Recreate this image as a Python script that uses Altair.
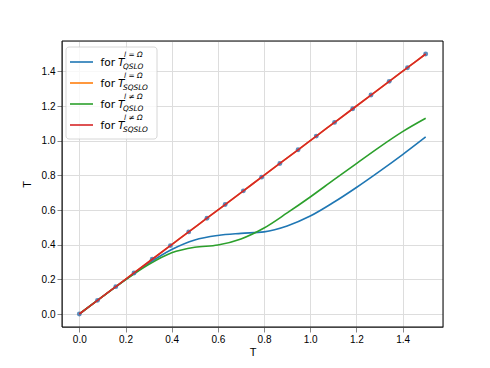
import altair as alt
import pandas as pd

# ---- data ----
curve_x = [0.0, 0.1, 0.2, 0.3, 0.4, 0.5, 0.6, 0.7, 0.8, 0.9, 1.0, 1.1, 1.2, 1.3, 1.4, 1.5]
qslo_eq = [0.0, 0.1, 0.198, 0.292, 0.372, 0.427, 0.453, 0.465, 0.474, 0.508, 0.565, 0.643, 0.73, 0.823, 0.92, 1.022]
qslo_ne = [0.0, 0.1, 0.197, 0.285, 0.353, 0.385, 0.398, 0.433, 0.496, 0.583, 0.675, 0.772, 0.868, 0.963, 1.052, 1.129]

pts_x = [0.0, 0.0789, 0.1579, 0.2368, 0.3158, 0.3947, 0.4737, 0.5526, 0.6316, 0.7105,
         0.7895, 0.8684, 0.9474, 1.0263, 1.1053, 1.1842, 1.2632, 1.3421, 1.4211, 1.5]
sqslo_eq = [0.0, 0.0789, 0.1579, 0.2368, 0.3158, 0.3947, 0.4737, 0.5526, 0.6316, 0.7105,
            0.7895, 0.8684, 0.9474, 1.0263, 1.1053, 1.1842, 1.2632, 1.3421, 1.4211, 1.5]
sqslo_ne = [0.0, 0.0789, 0.1579, 0.2368, 0.3158, 0.3947, 0.4737, 0.5526, 0.6316, 0.7105,
            0.7895, 0.8684, 0.9474, 1.0263, 1.1053, 1.1842, 1.2632, 1.3421, 1.4211, 1.5]

tick_vals = [0.0, 0.2, 0.4, 0.6, 0.8, 1.0, 1.2, 1.4]

series_names = ["QSLO_eq", "SQSLO_eq", "QSLO_ne", "SQSLO_ne"]
colors = ["#1f77b4", "#ff7f0e", "#2ca02c", "#d62728"]
sup_labels = ["l = Ω", "l = Ω", "l ≠ Ω", "l ≠ Ω"]
sub_labels = ["QSLO", "SQSLO", "QSLO", "SQSLO"]

series_data = {
    "QSLO_eq": (curve_x, qslo_eq),
    "SQSLO_eq": (pts_x, sqslo_eq),
    "QSLO_ne": (curve_x, qslo_ne),
    "SQSLO_ne": (pts_x, sqslo_ne),
}
pts = pd.DataFrame({"x": pts_x, "y": sqslo_eq})

W, H = 381, 286
xs = alt.Scale(domain=[-0.075, 1.575], nice=False, zero=False)
ys = alt.Scale(domain=[-0.075, 1.575], nice=False, zero=False)

xenc = alt.X("x:Q", scale=xs, axis=alt.Axis(values=tick_vals, format=".1f", title="T",
                                              titlePadding=2, titleFontWeight=400))
yenc = alt.Y("y:Q", scale=ys, axis=alt.Axis(values=tick_vals, format=".1f", title="T",
                                              titlePadding=9, titleFontWeight=400))

markers = alt.Chart(pts).mark_circle(size=24, color="#3f78b0", opacity=0.85).encode(x=xenc, y=yenc)

series_layers = []
for name, c in zip(series_names, colors):
    sx, sy = series_data[name]
    series_layers.append(
        alt.Chart(pd.DataFrame({"x": sx, "y": sy})).mark_line(
            strokeWidth=1.6, interpolate="monotone", color=c).encode(x=xenc, y=yenc)
    )

# ---- manual legend (matplotlib style with math labels) ----
leg = pd.DataFrame({"sup": sup_labels, "sub": sub_labels, "row": [0, 1, 2, 3]})
row_y0, row_dy = 21, 21

box = alt.Chart(pd.DataFrame({"a": [0]})).mark_rect(
    fill="white", fillOpacity=0.8, stroke="#cccccc", strokeWidth=0.8, cornerRadius=3
).encode(x=alt.value(4), x2=alt.value(95), y=alt.value(6), y2=alt.value(98))

legend_layers = [box]
for i in range(4):
    yy = row_y0 + row_dy * i
    one = leg[leg.row == i]
    legend_layers.append(alt.Chart(one).mark_rule(color=colors[i], strokeWidth=1.6).encode(
        x=alt.value(8), x2=alt.value(31), y=alt.value(yy)))
    legend_layers.append(alt.Chart(one).mark_text(align="left", baseline="alphabetic", fontSize=10.6,
                                                  font="DejaVu Sans", color="black").encode(
        x=alt.value(38.5), y=alt.value(yy + 4), text=alt.value("for")))
    legend_layers.append(alt.Chart(one).mark_text(align="left", baseline="alphabetic", fontSize=10.6,
                                                  font="DejaVu Sans", fontStyle="italic", color="black").encode(
        x=alt.value(56), y=alt.value(yy + 4), text=alt.value("T")))
    legend_layers.append(alt.Chart(one).mark_text(align="left", baseline="alphabetic", fontSize=7.4,
                                                  font="DejaVu Sans", fontStyle="italic", color="black").encode(
        x=alt.value(62), y=alt.value(yy - 5), text="sup:N"))
    legend_layers.append(alt.Chart(one).mark_text(align="left", baseline="alphabetic", fontSize=7.4,
                                                  font="DejaVu Sans", fontStyle="italic", color="black").encode(
        x=alt.value(61), y=alt.value(yy + 6.5), text="sub:N"))

frame = alt.Chart(pd.DataFrame({"a": [0]})).mark_rect(
    filled=False, stroke="black", strokeWidth=1
).encode(x=alt.value(0), x2=alt.value(W), y=alt.value(0), y2=alt.value(H))

chart = alt.layer(*series_layers[:3], markers, series_layers[3], *legend_layers, frame).properties(
    width=W, height=H,
    autosize=alt.AutoSizeParams(type="none"),
    padding={"left": 54, "top": 33, "right": 39, "bottom": 33},
).configure_view(
    stroke="black", strokeWidth=1
).configure_axis(
    grid=True, gridColor="#b0b0b0", gridWidth=1, domain=False,
    tickColor="black", tickSize=3.5, tickWidth=0.8,
    labelFont="DejaVu Sans", labelFontSize=10.6, labelColor="black", labelPadding=3,
    titleFont="DejaVu Sans", titleFontSize=10.6, titleColor="black", titleFontWeight=400,
).configure(background="white")

chart.save("out.html", embed_options={"renderer": "svg", "actions": False})
